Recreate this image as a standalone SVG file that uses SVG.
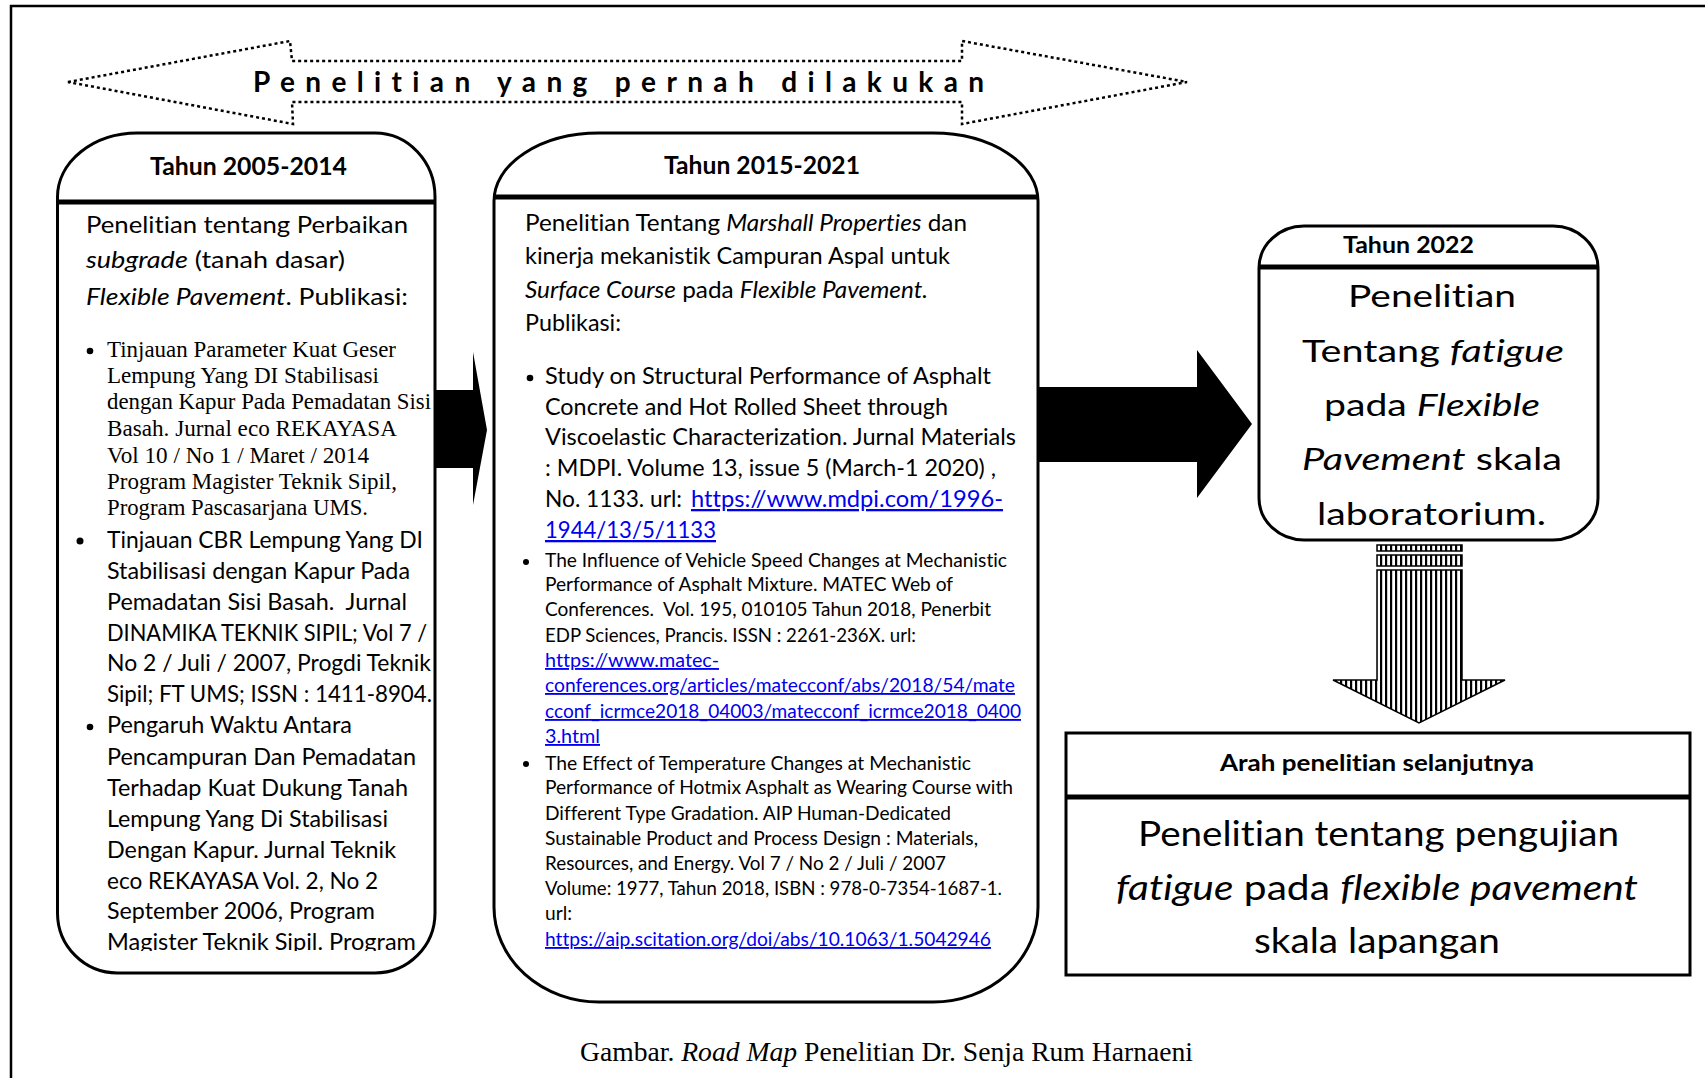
<svg xmlns="http://www.w3.org/2000/svg" width="1705" height="1078" viewBox="0 0 1705 1078">
  <defs>
    <style>
      text{font-variant-ligatures:none;font-feature-settings:"liga" 0,"dlig" 0}
      .frame{fill:none;stroke:#000;stroke-width:2.5}
      .box{fill:#fff;stroke:#000;stroke-width:3}
      .divider{stroke:#000;stroke-width:5}
      .dotted{fill:none;stroke:#000;stroke-width:2.5;stroke-dasharray:3 3}
      .solid{fill:#000;stroke:none}
      .hd{font-family:Lato,"Liberation Sans",sans-serif;font-weight:700;fill:#000}
      .tx{font-family:Lato,"Liberation Sans",sans-serif;fill:#000}
      .tm{font-family:"Liberation Serif","Times New Roman",serif;fill:#000}
      .it{font-style:italic}
      .lk{fill:#0000ee;text-decoration:underline}
      .s23{font-size:23px}
      .s18{font-size:18.5px}
      .dot{fill:#000}
    </style>
    <pattern id="vstripes" width="5" height="10" patternUnits="userSpaceOnUse">
      <rect width="5" height="10" fill="#fff"/>
      <rect x="0" width="2.2" height="10" fill="#000"/>
    </pattern>
    <clipPath id="leftClip">
      <rect x="40" y="130" width="420" height="821"/>
    </clipPath>
  </defs>

  <!-- page frame -->
  <path class="frame" d="M1705 6 H11 V1078"/>

  <!-- dotted double-headed banner -->
  <g id="banner">
    <path class="dotted" d="M68 82 L290 41 L292 61 H962 V41 L1187 82 L962 124 V102 H292 L293 124 Z"/>
    <text class="hd" x="253" y="92" font-size="28" textLength="731" lengthAdjust="spacing">Penelitian yang pernah dilakukan</text>
  </g>

  <!-- 2005-2014 -->
  <g id="node-2005-2014">
    <path class="box" d="M137.5 133 H375 A60 64 0 0 1 435 197 V913 A60 60 0 0 1 375 973 H117.5 A60 60 0 0 1 57.5 913 V197 A80 64 0 0 1 137.5 133 Z"/>
    <line class="divider" x1="57.5" y1="202" x2="435" y2="202"/>
    <text class="hd" x="150" y="175" font-size="25" textLength="197" lengthAdjust="spacingAndGlyphs">Tahun 2005-2014</text>
    <g class="tx s23">
      <text x="86" y="233" textLength="322" lengthAdjust="spacingAndGlyphs">Penelitian tentang Perbaikan</text>
      <text x="86" y="268" textLength="259" lengthAdjust="spacingAndGlyphs"><tspan class="it">subgrade</tspan> (tanah dasar)</text>
      <text x="86" y="305" textLength="322" lengthAdjust="spacingAndGlyphs"><tspan class="it">Flexible Pavement</tspan>. Publikasi:</text>
    </g>
    <circle class="dot" cx="90" cy="351" r="3.3"/>
    <g class="tm" font-size="22.5">
      <text x="107" y="357" textLength="289" lengthAdjust="spacingAndGlyphs">Tinjauan Parameter Kuat Geser</text>
      <text x="107" y="383" textLength="272" lengthAdjust="spacingAndGlyphs">Lempung Yang DI Stabilisasi</text>
      <text x="107" y="409" textLength="324" lengthAdjust="spacingAndGlyphs">dengan Kapur Pada Pemadatan Sisi</text>
      <text x="107" y="436" textLength="290" lengthAdjust="spacingAndGlyphs">Basah. Jurnal eco REKAYASA</text>
      <text x="107" y="463" textLength="262" lengthAdjust="spacingAndGlyphs">Vol 10 / No 1 / Maret / 2014</text>
      <text x="107" y="489" textLength="290" lengthAdjust="spacingAndGlyphs">Program Magister Teknik Sipil,</text>
      <text x="107" y="515" textLength="261" lengthAdjust="spacingAndGlyphs">Program Pascasarjana UMS.</text>
    </g>
    <circle class="dot" cx="80" cy="541" r="3.5"/>
    <circle class="dot" cx="90" cy="727" r="3.3"/>
    <g class="tx s23" clip-path="url(#leftClip)">
      <text x="107" y="548" textLength="316" lengthAdjust="spacingAndGlyphs">Tinjauan CBR Lempung Yang DI</text>
      <text x="107" y="579" textLength="303" lengthAdjust="spacingAndGlyphs">Stabilisasi dengan Kapur Pada</text>
      <text x="107" y="610" textLength="300" lengthAdjust="spacingAndGlyphs" xml:space="preserve">Pemadatan Sisi Basah.  Jurnal</text>
      <text x="107" y="641" textLength="320" lengthAdjust="spacingAndGlyphs">DINAMIKA TEKNIK SIPIL; Vol 7 /</text>
      <text x="107" y="671" textLength="324" lengthAdjust="spacingAndGlyphs">No 2 / Juli / 2007, Progdi Teknik</text>
      <text x="107" y="702" textLength="325" lengthAdjust="spacingAndGlyphs">Sipil; FT UMS; ISSN : 1411-8904.</text>
      <text x="107" y="733" textLength="245" lengthAdjust="spacingAndGlyphs">Pengaruh Waktu Antara</text>
      <text x="107" y="765" textLength="309" lengthAdjust="spacingAndGlyphs">Pencampuran Dan Pemadatan</text>
      <text x="107" y="796" textLength="301" lengthAdjust="spacingAndGlyphs">Terhadap Kuat Dukung Tanah</text>
      <text x="107" y="827" textLength="281" lengthAdjust="spacingAndGlyphs">Lempung Yang Di Stabilisasi</text>
      <text x="107" y="858" textLength="289" lengthAdjust="spacingAndGlyphs">Dengan Kapur. Jurnal Teknik</text>
      <text x="107" y="889" textLength="271" lengthAdjust="spacingAndGlyphs">eco REKAYASA Vol. 2, No 2</text>
      <text x="107" y="919" textLength="268" lengthAdjust="spacingAndGlyphs">September 2006, Program</text>
      <text x="107" y="950" textLength="309" lengthAdjust="spacingAndGlyphs">Magister Teknik Sipil. Program</text>
    </g>
  </g>

  <!-- 2015-2021 -->
  <g id="node-2015-2021">
    <path class="box" d="M599 133 H933 A105 68 0 0 1 1038 201 V907 A105 95 0 0 1 933 1002 H599 A105 95 0 0 1 494 907 V201 A105 68 0 0 1 599 133 Z"/>
    <line class="divider" x1="494" y1="197" x2="1038" y2="197"/>
    <text class="hd" x="664" y="174" font-size="25" textLength="196" lengthAdjust="spacingAndGlyphs">Tahun 2015-2021</text>
    <g class="tx s23">
      <text x="525" y="231" textLength="442" lengthAdjust="spacingAndGlyphs">Penelitian Tentang <tspan class="it">Marshall Properties</tspan> dan</text>
      <text x="525" y="264" textLength="425" lengthAdjust="spacingAndGlyphs">kinerja mekanistik Campuran Aspal untuk</text>
      <text x="525" y="298" textLength="403" lengthAdjust="spacingAndGlyphs"><tspan class="it">Surface Course</tspan> pada <tspan class="it">Flexible Pavement.</tspan></text>
      <text x="525" y="331" textLength="96" lengthAdjust="spacingAndGlyphs">Publikasi:</text>
      <text x="545" y="384" textLength="446" lengthAdjust="spacingAndGlyphs">Study on Structural Performance of Asphalt</text>
      <text x="545" y="415" textLength="403" lengthAdjust="spacingAndGlyphs">Concrete and Hot Rolled Sheet through</text>
      <text x="545" y="445" textLength="471" lengthAdjust="spacingAndGlyphs">Viscoelastic Characterization. Jurnal Materials</text>
      <text x="545" y="476" textLength="451" lengthAdjust="spacingAndGlyphs">: MDPI. Volume 13, issue 5 (March-1 2020) ,</text>
      <text x="545" y="507" textLength="137" lengthAdjust="spacingAndGlyphs">No. 1133. url:</text>
      <text class="lk" x="691" y="507" textLength="312" lengthAdjust="spacingAndGlyphs">https://www.mdpi.com/1996-</text>
      <text class="lk" x="545" y="538" textLength="171" lengthAdjust="spacingAndGlyphs">1944/13/5/1133</text>
    </g>
    <circle class="dot" cx="530" cy="378" r="3.3"/>
    <circle class="dot" cx="526" cy="562" r="3"/>
    <circle class="dot" cx="526" cy="764" r="3"/>
    <g class="tx s18">
      <text x="545" y="567" textLength="462" lengthAdjust="spacingAndGlyphs">The Influence of Vehicle Speed Changes at Mechanistic</text>
      <text x="545" y="591" textLength="408" lengthAdjust="spacingAndGlyphs">Performance of Asphalt Mixture. MATEC Web of</text>
      <text x="545" y="616" textLength="446" lengthAdjust="spacingAndGlyphs" xml:space="preserve">Conferences.  Vol. 195, 010105 Tahun 2018, Penerbit</text>
      <text x="545" y="642" textLength="371" lengthAdjust="spacingAndGlyphs">EDP Sciences, Prancis. ISSN : 2261-236X. url:</text>
      <text class="lk" x="545" y="667" textLength="174" lengthAdjust="spacingAndGlyphs">https://www.matec-</text>
      <text class="lk" x="545" y="692" textLength="470" lengthAdjust="spacingAndGlyphs">conferences.org/articles/matecconf/abs/2018/54/mate</text>
      <text class="lk" x="545" y="718" textLength="476" lengthAdjust="spacingAndGlyphs">cconf_icrmce2018_04003/matecconf_icrmce2018_0400</text>
      <text class="lk" x="545" y="743" textLength="55" lengthAdjust="spacingAndGlyphs">3.html</text>
      <text x="545" y="770" textLength="426" lengthAdjust="spacingAndGlyphs">The Effect of Temperature Changes at Mechanistic</text>
      <text x="545" y="794" textLength="468" lengthAdjust="spacingAndGlyphs">Performance of Hotmix Asphalt as Wearing Course with</text>
      <text x="545" y="820" textLength="406" lengthAdjust="spacingAndGlyphs">Different Type Gradation. AIP Human-Dedicated</text>
      <text x="545" y="845" textLength="433" lengthAdjust="spacingAndGlyphs">Sustainable Product and Process Design : Materials,</text>
      <text x="545" y="870" textLength="401" lengthAdjust="spacingAndGlyphs">Resources, and Energy. Vol 7 / No 2 / Juli / 2007</text>
      <text x="545" y="895" textLength="457" lengthAdjust="spacingAndGlyphs">Volume: 1977, Tahun 2018, ISBN : 978-0-7354-1687-1.</text>
      <text x="545" y="920" textLength="27" lengthAdjust="spacingAndGlyphs">url:</text>
      <text class="lk" x="545" y="946" textLength="446" lengthAdjust="spacingAndGlyphs">https://aip.scitation.org/doi/abs/10.1063/1.5042946</text>
    </g>
  </g>

  <!-- 2022 -->
  <g id="node-2022">
    <path class="box" d="M1304 226 H1553 A45 42 0 0 1 1598 268 V498 A45 42 0 0 1 1553 540 H1304 A45 42 0 0 1 1259 498 V268 A45 42 0 0 1 1304 226 Z"/>
    <line class="divider" x1="1259" y1="267" x2="1598" y2="267"/>
    <text class="hd" x="1343" y="253" font-size="23" textLength="131" lengthAdjust="spacingAndGlyphs">Tahun 2022</text>
    <g class="tx" font-size="31">
      <text x="1348" y="307" textLength="168" lengthAdjust="spacingAndGlyphs">Penelitian</text>
      <text x="1302" y="362" textLength="262" lengthAdjust="spacingAndGlyphs">Tentang <tspan class="it">fatigue</tspan></text>
      <text x="1324" y="416" textLength="216" lengthAdjust="spacingAndGlyphs">pada <tspan class="it">Flexible</tspan></text>
      <text x="1302" y="470" textLength="260" lengthAdjust="spacingAndGlyphs"><tspan class="it">Pavement</tspan> skala</text>
      <text x="1317" y="525" textLength="229" lengthAdjust="spacingAndGlyphs">laboratorium.</text>
    </g>
  </g>

  <!-- next research direction -->
  <g id="node-next">
    <rect class="box" x="1066" y="733" width="624" height="242"/>
    <line class="divider" x1="1066" y1="797" x2="1690" y2="797"/>
    <text class="hd" x="1220" y="771" font-size="22" textLength="314" lengthAdjust="spacingAndGlyphs">Arah penelitian selanjutnya</text>
    <g class="tx" font-size="35">
      <text x="1138" y="846" textLength="481" lengthAdjust="spacingAndGlyphs">Penelitian tentang pengujian</text>
      <text x="1116" y="900" textLength="522" lengthAdjust="spacingAndGlyphs"><tspan class="it">fatigue</tspan> pada <tspan class="it">flexible pavement</tspan></text>
      <text x="1254" y="953" textLength="246" lengthAdjust="spacingAndGlyphs">skala lapangan</text>
    </g>
  </g>

  <!-- connectors -->
  <g id="connectors">
    <polygon class="solid" points="435,390 473,390 473,352 487,430 473,505 473,468 435,468"/>
    <polygon class="solid" points="1038,387 1197,387 1197,350 1252,424 1197,498 1197,462 1038,462"/>
    <g fill="url(#vstripes)" stroke="#000" stroke-width="1.5">
      <rect x="1377" y="545" width="85" height="6"/>
      <rect x="1377" y="555" width="85" height="11"/>
      <polygon points="1377,570 1462,570 1462,680 1505,680 1419,723 1333,680 1377,680"/>
    </g>
  </g>

  <!-- caption -->
  <text class="tm" x="580" y="1061" font-size="26.5" textLength="613" lengthAdjust="spacingAndGlyphs">Gambar. <tspan class="it">Road Map</tspan> Penelitian Dr. Senja Rum Harnaeni</text>
</svg>
